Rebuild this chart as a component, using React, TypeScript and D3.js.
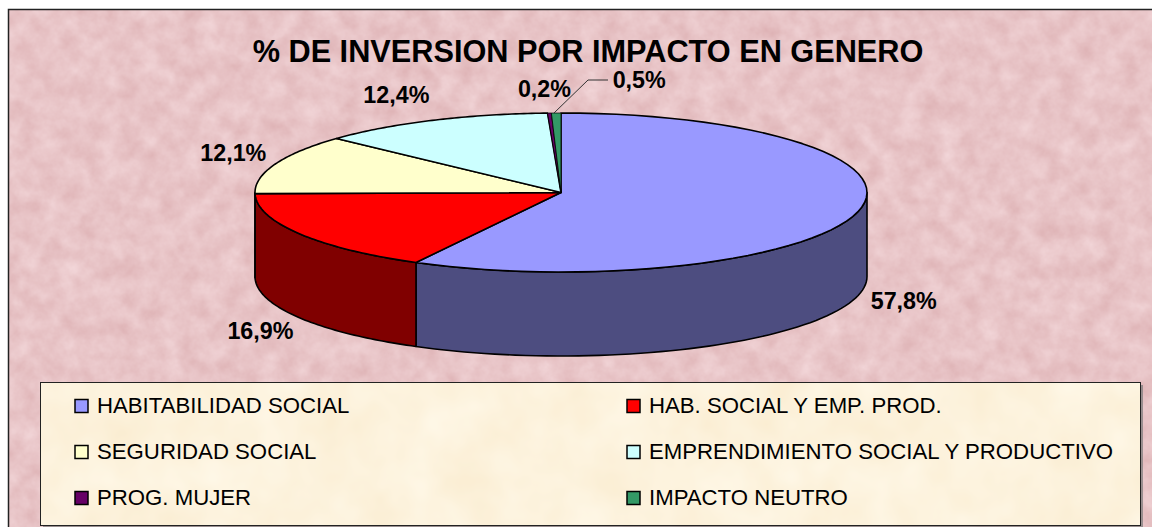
import React from "react";
import * as d3 from "d3";

const categories = [
  "HABITABILIDAD SOCIAL",
  "HAB. SOCIAL Y EMP. PROD.",
  "SEGURIDAD SOCIAL",
  "EMPRENDIMIENTO SOCIAL Y PRODUCTIVO",
  "PROG. MUJER",
  "IMPACTO NEUTRO",
];
const values = [57.8, 16.9, 12.1, 12.4, 0.2, 0.5];
const valueLabels = ["57,8%", "16,9%", "12,1%", "12,4%", "0,2%", "0,5%"];
const topColors = ["#9999ff", "#ff0000", "#ffffcc", "#ccffff", "#660066", "#339966"];
const sideColors = ["#4d4d80", "#800000", "#808066", "#668080", "#330033", "#1a4d33"];

const width = 1152;
const height = 527;
const cx = 561;
const cy = 192.5;
const rx = 306;
const ry = 79.5;
const depth = 84;

// label offset from the middle of each slice's rim
const labelShift = [
  [46, 89],
  [-39, 97],
  [-42, -11],
  [-36, -26],
  [-5, -24],
  [83, -33],
];

const font = "'Liberation Sans', Arial, sans-serif";

const pie = d3
  .pie<number>()
  .sort(null)
  .value((d) => d);
const slices = pie(values);

const rim = (a: number, dy = 0): [number, number] => [
  cx + rx * Math.sin(a),
  cy - ry * Math.cos(a) + dy,
];

const line = d3.line();

const arcPoints = (a0: number, a1: number, dy = 0) =>
  d3.range(0, 61).map((i) => rim(a0 + ((a1 - a0) * i) / 60, dy));

const topPath = (a0: number, a1: number) =>
  line([[cx, cy], ...arcPoints(a0, a1)]) + "Z";

// only the front half of the rim shows a wall
const wallPath = (a0: number, a1: number) => {
  const from = Math.max(a0, Math.PI / 2);
  const to = Math.min(a1, (3 * Math.PI) / 2);
  if (to <= from) return null;
  return line([...arcPoints(from, to), ...arcPoints(to, from, depth)]) + "Z";
};

const legendCols = [75, 627];
const legendRows = [406, 452, 498];

const App = () => {
  return (
    <svg
      width={width}
      height={height}
      style={{ position: "absolute", left: 0, top: 0, display: "block" }}
    >
      <defs>
        <filter id="pink" x="0" y="0" width="100%" height="100%" colorInterpolationFilters="sRGB">
          <feTurbulence type="fractalNoise" baseFrequency="0.05" numOctaves="4" seed="7" />
          <feColorMatrix
            type="matrix"
            values="0.09 0 0 0 0.865  0.16 0 0 0 0.69  0.16 0 0 0 0.70  0 0 0 0 1"
          />
        </filter>
        <filter id="cream" x="0" y="0" width="100%" height="100%" colorInterpolationFilters="sRGB">
          <feTurbulence type="fractalNoise" baseFrequency="0.02" numOctaves="3" seed="3" />
          <feColorMatrix
            type="matrix"
            values="0.02 0 0 0 0.98  0.05 0 0 0 0.925  0.10 0 0 0 0.815  0 0 0 0 1"
          />
        </filter>
      </defs>

      <rect width={width} height={height} fill="#ffffff" />
      <rect x={9} y={10} width={width} height={height} filter="url(#pink)" />
      <path d={`M8.5 ${height}V9.5H${width}`} fill="none" stroke="#222222" strokeWidth={1.5} />

      <text
        x={588}
        y={62}
        textAnchor="middle"
        fontFamily={font}
        fontWeight="bold"
        fontSize={30.7}
        fill="#000000"
      >
        % DE INVERSION POR IMPACTO EN GENERO
      </text>

      <g stroke="#000000" strokeWidth={1.6} strokeLinejoin="round">
        {slices.map((s, i) => {
          const d = wallPath(s.startAngle, s.endAngle);
          return d ? <path key={i} d={d} fill={sideColors[i]} /> : null;
        })}
        {slices.map((s, i) => (
          <path
            key={i}
            d={topPath(s.startAngle, s.endAngle)}
            fill={topColors[i]}
            strokeWidth={values[i] < 1 ? 0.8 : 1.6}
          />
        ))}
      </g>

      <path d="M554 113L588 80H608" fill="none" stroke="#333333" strokeWidth={1} />

      {slices.map((s, i) => {
        const [x, y] = rim((s.startAngle + s.endAngle) / 2);
        return (
          <text
            key={i}
            x={x + labelShift[i][0]}
            y={y + labelShift[i][1]}
            dy="0.36em"
            textAnchor="middle"
            fontFamily={font}
            fontWeight="bold"
            fontSize={23.3}
            fill="#000000"
          >
            {valueLabels[i]}
          </text>
        );
      })}

      <rect x={43} y={385} width={1100} height={143} fill="#777777" opacity={0.7} />
      <rect x={40.5} y={382.5} width={1100} height={143} filter="url(#cream)" />
      <rect x={40.5} y={382.5} width={1100} height={143} fill="none" stroke="#222222" strokeWidth={1} />

      {categories.map((c, i) => {
        const x = legendCols[i % 2];
        const y = legendRows[Math.floor(i / 2)];
        return (
          <g key={c}>
            <rect
              x={x}
              y={y - 6.5}
              width={13}
              height={13}
              fill={topColors[i]}
              stroke="#000000"
              strokeWidth={1.5}
            />
            <text
              x={x + 22}
              y={y - 1}
              dy="0.36em"
              fontFamily={font}
              fontSize={22.2}
              fill="#000000"
            >
              {c}
            </text>
          </g>
        );
      })}
    </svg>
  );
};

export default App;
